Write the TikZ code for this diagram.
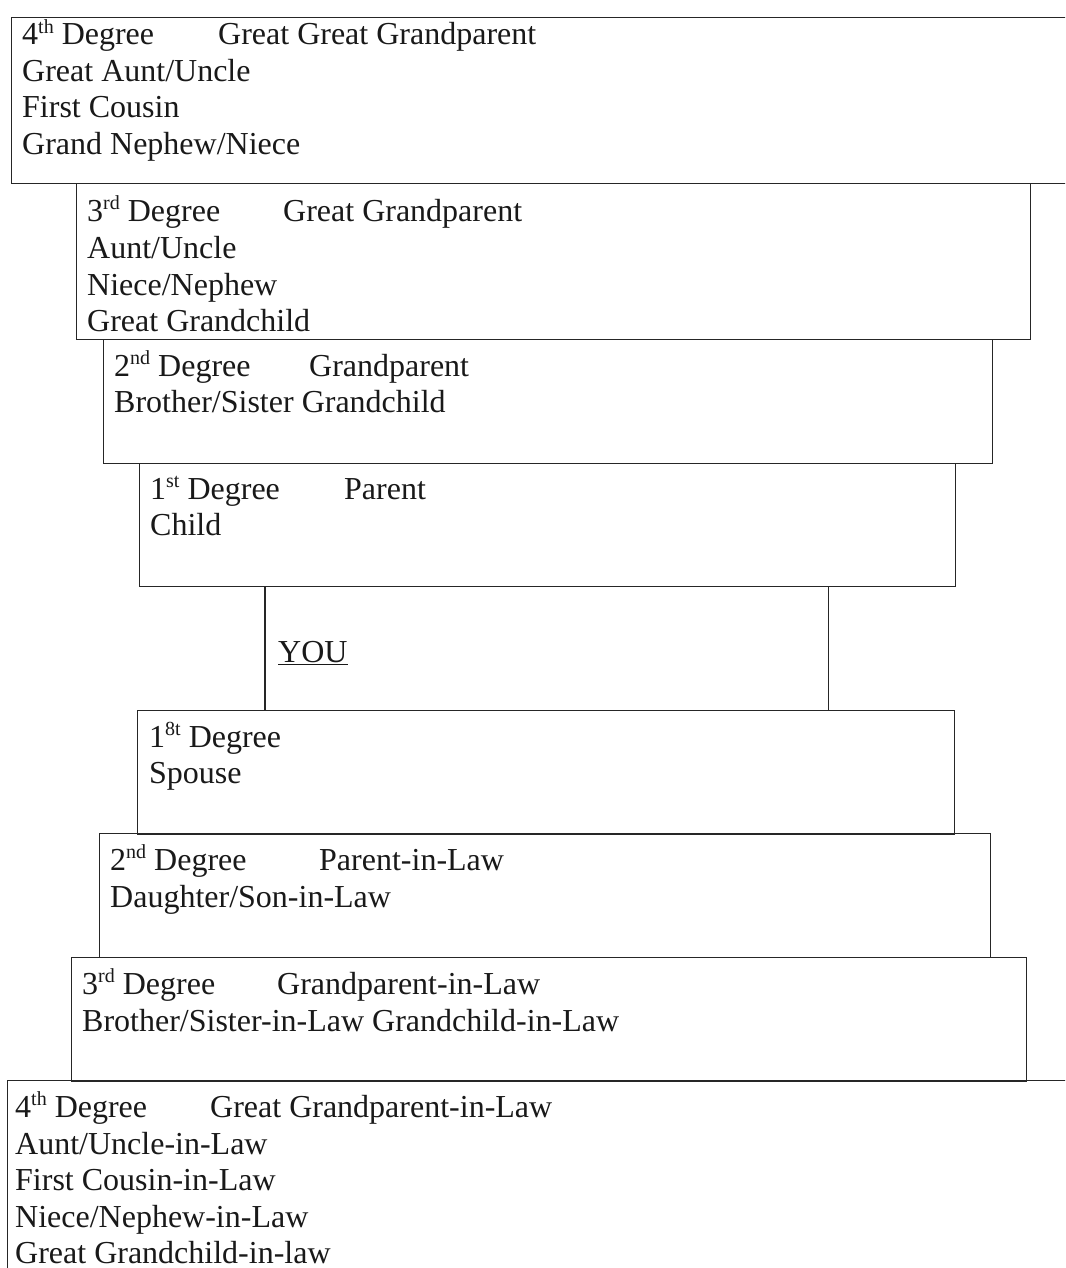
\documentclass[tikz,border=0pt]{standalone}
\usepackage{fontspec}
\setmainfont{Liberation Serif}
\newcommand\sups[1]{\raisebox{0.36em}{\fontsize{20}{20}\selectfont #1}}
\begin{document}
\begin{tikzpicture}[x=1pt,y=-1pt,
  frame/.style={draw=black!85, line width=1.2pt, rectangle, inner sep=0pt, anchor=north west},
  ghost/.style={rectangle, inner sep=0pt, anchor=north west},
  txt/.style={anchor=base west, inner sep=0pt, text=black!90, font=\fontsize{32}{37}\selectfont},
  edge/.style={draw=black!85, line width=1.2pt}]
\useasboundingbox[fill=white] (0,0) rectangle (1065,1268);
\clip (0,0) rectangle (1065,1268);
% boxes
\node[frame, minimum width=1080pt, minimum height=166pt] (b1) at (11,17) {};
\node[frame, minimum width=954pt, minimum height=156pt] (b2) at (76,183) {};
\node[frame, minimum width=889pt, minimum height=124pt] (b3) at (103,339) {};
\node[frame, minimum width=816pt, minimum height=123pt] (b4) at (139,463) {};
\node[ghost, minimum width=563pt, minimum height=124pt] (you) at (265,586) {};
\node[frame, minimum width=817pt, minimum height=124pt] (b5) at (137,710) {};
\node[frame, minimum width=891pt, minimum height=124pt] (b6) at (99,833) {};
\node[frame, minimum width=955pt, minimum height=124pt] (b7) at (71,957) {};
\node[frame, minimum width=1080pt, minimum height=220pt] (b8) at (7,1080) {};
\draw[edge] (you.north west) -- (you.south west);
\draw[edge] (you.north east) -- (you.south east);
% texts box 1
\node[txt] (t1a) at (22,45) {4\sups{th} Degree};
\node[txt] (t1b) at (218,45) {Great Great Grandparent};
\node[txt] (t1c) at (22,82) {Great Aunt/Uncle};
\node[txt] (t1d) at (22,118) {First Cousin};
\node[txt] (t1e) at (22,155) {Grand Nephew/Niece};
% box 2
\node[txt] (t2a) at (87,221) {3\sups{rd} Degree};
\node[txt] (t2b) at (283,221) {Great Grandparent};
\node[txt] (t2c) at (87,258) {Aunt/Uncle};
\node[txt] (t2d) at (87,295) {Niece/Nephew};
\node[txt] (t2e) at (87,331) {Great Grandchild};
% box 3
\node[txt] (t3a) at (114,376) {2\sups{nd} Degree};
\node[txt] (t3b) at (309,376) {Grandparent};
\node[txt] (t3c) at (114,412) {Brother/Sister Grandchild};
% box 4
\node[txt] (t4a) at (150,499) {1\sups{st} Degree};
\node[txt] (t4b) at (344,499) {Parent};
\node[txt] (t4c) at (150,535) {Child};
% you
\node[txt] (ty) at (278,662) {\underline{YOU}};
% box 5
\node[txt] (t5a) at (149,747) {1\sups{8t} Degree};
\node[txt] (t5b) at (149,783) {Spouse};
% box 6
\node[txt] (t6a) at (110,870) {2\sups{nd} Degree};
\node[txt] (t6b) at (319,870) {Parent-in-Law};
\node[txt] (t6c) at (110,907) {Daughter/Son-in-Law};
% box 7
\node[txt] (t7a) at (82,994) {3\sups{rd} Degree};
\node[txt] (t7b) at (277,994) {Grandparent-in-Law};
\node[txt] (t7c) at (82,1031) {Brother/Sister-in-Law Grandchild-in-Law};
% box 8
\node[txt] (t8a) at (15,1117) {4\sups{th} Degree};
\node[txt] (t8b) at (210,1117) {Great Grandparent-in-Law};
\node[txt] (t8c) at (15,1154) {Aunt/Uncle-in-Law};
\node[txt] (t8d) at (15,1190) {First Cousin-in-Law};
\node[txt] (t8e) at (15,1227) {Niece/Nephew-in-Law};
\node[txt] (t8f) at (15,1263) {Great Grandchild-in-law};
\end{tikzpicture}
\end{document}
